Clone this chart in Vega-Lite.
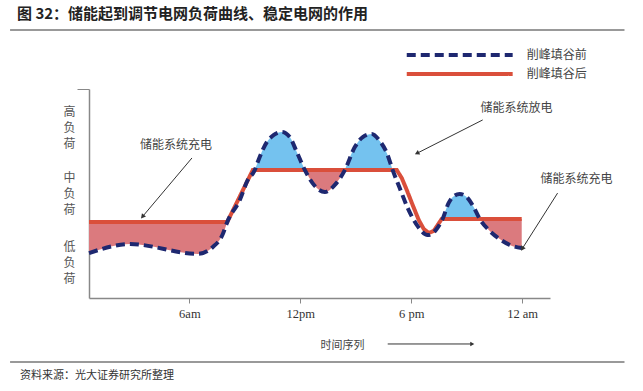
{
  "$schema": "https://vega.github.io/schema/vega-lite/v6.json",
  "width": 461,
  "height": 209,
  "autosize": {"type": "none"},
  "padding": {"left": 89, "top": 89, "right": 93, "bottom": 93},
  "background": "white",
  "config": {"view": {"stroke": null}, "font": "Noto Sans CJK SC"},
  "title": {
    "text": "图 32：储能起到调节电网负荷曲线、稳定电网的作用",
    "anchor": "start",
    "frame": "group",
    "dx": -72,
    "dy": -7,
    "offset": 0,
    "fontSize": 15,
    "fontWeight": "bold",
    "color": "#222",
    "font": "Noto Sans CJK SC"
  },
  "datasets": {
    "curves": [
      {"t": 0.57, "load": 21.5, "series": "削峰填谷前"},
      {"t": 2.79, "load": 25.8, "series": "削峰填谷前"},
      {"t": 6.46, "load": 21.1, "series": "削峰填谷前"},
      {"t": 7.27, "load": 24.4, "series": "削峰填谷前"},
      {"t": 7.81, "load": 30.6, "series": "削峰填谷前"},
      {"t": 8.05, "load": 36.4, "series": "削峰填谷前"},
      {"t": 8.73, "load": 46.9, "series": "削峰填谷前"},
      {"t": 9.16, "load": 56.5, "series": "削峰填谷前"},
      {"t": 9.54, "load": 61.2, "series": "削峰填谷前"},
      {"t": 9.70, "load": 65.1, "series": "削峰填谷前"},
      {"t": 10.19, "load": 74.6, "series": "削峰填谷前"},
      {"t": 10.57, "load": 78.0, "series": "削峰填谷前"},
      {"t": 11.0, "load": 79.4, "series": "削峰填谷前"},
      {"t": 11.43, "load": 77.0, "series": "削峰填谷前"},
      {"t": 11.81, "load": 69.9, "series": "削峰填谷前"},
      {"t": 12.25, "load": 61.2, "series": "削峰填谷前"},
      {"t": 12.79, "load": 53.6, "series": "削峰填谷前"},
      {"t": 13.33, "load": 50.7, "series": "削峰填谷前"},
      {"t": 13.87, "load": 54.1, "series": "削峰填谷前"},
      {"t": 14.41, "load": 61.2, "series": "削峰填谷前"},
      {"t": 14.95, "load": 72.2, "series": "削峰填谷前"},
      {"t": 15.38, "load": 77.0, "series": "削峰填谷前"},
      {"t": 15.87, "load": 78.5, "series": "削峰填谷前"},
      {"t": 16.30, "load": 75.1, "series": "削峰填谷前"},
      {"t": 16.68, "load": 69.4, "series": "削峰填谷前"},
      {"t": 17.0, "load": 61.2, "series": "削峰填谷前"},
      {"t": 17.38, "load": 52.6, "series": "削峰填谷前"},
      {"t": 17.81, "load": 43.1, "series": "削峰填谷前"},
      {"t": 18.35, "load": 34.4, "series": "削峰填谷前"},
      {"t": 18.89, "load": 30.1, "series": "削峰填谷前"},
      {"t": 19.33, "load": 32.5, "series": "削峰填谷前"},
      {"t": 19.70, "load": 37.8, "series": "削峰填谷前"},
      {"t": 20.03, "load": 45.5, "series": "削峰填谷前"},
      {"t": 20.25, "load": 48.3, "series": "削峰填谷前"},
      {"t": 20.62, "load": 49.8, "series": "削峰填谷前"},
      {"t": 21.0, "load": 48.3, "series": "削峰填谷前"},
      {"t": 21.38, "load": 43.5, "series": "削峰填谷前"},
      {"t": 21.71, "load": 37.8, "series": "削峰填谷前"},
      {"t": 22.25, "load": 32.1, "series": "削峰填谷前"},
      {"t": 22.79, "load": 28.2, "series": "削峰填谷前"},
      {"t": 23.33, "load": 25.4, "series": "削峰填谷前"},
      {"t": 23.98, "load": 23.9, "series": "削峰填谷前"},
      {"t": 0.57, "load": 36.4, "series": "削峰填谷后"},
      {"t": 8.05, "load": 36.4, "series": "削峰填谷后"},
      {"t": 9.43, "load": 61.2, "series": "削峰填谷后"},
      {"t": 17.22, "load": 61.2, "series": "削峰填谷后"},
      {"t": 17.49, "load": 57.4, "series": "削峰填谷后"},
      {"t": 17.76, "load": 51.7, "series": "削峰填谷后"},
      {"t": 18.08, "load": 44.5, "series": "削峰填谷后"},
      {"t": 18.41, "load": 37.3, "series": "削峰填谷后"},
      {"t": 18.68, "load": 33.0, "series": "削峰填谷后"},
      {"t": 18.95, "load": 31.1, "series": "削峰填谷后"},
      {"t": 19.22, "load": 32.1, "series": "削峰填谷后"},
      {"t": 19.43, "load": 34.9, "series": "削峰填谷后"},
      {"t": 19.65, "load": 37.8, "series": "削峰填谷后"},
      {"t": 23.98, "load": 37.8, "series": "削峰填谷后"}
    ],
    "fills": [
      {"t": 0.57, "before": 21.5, "after": 36.4, "region": "c1", "kind": "charge"},
      {"t": 2.79, "before": 25.8, "after": 36.4, "region": "c1", "kind": "charge"},
      {"t": 6.46, "before": 21.1, "after": 36.4, "region": "c1", "kind": "charge"},
      {"t": 7.27, "before": 24.4, "after": 36.4, "region": "c1", "kind": "charge"},
      {"t": 7.81, "before": 30.6, "after": 36.4, "region": "c1", "kind": "charge"},
      {"t": 8.05, "before": 36.4, "after": 36.4, "region": "c1", "kind": "charge"},
      {"t": 9.54, "before": 61.2, "after": 61.2, "region": "d1", "kind": "discharge"},
      {"t": 9.70, "before": 65.1, "after": 61.2, "region": "d1", "kind": "discharge"},
      {"t": 10.19, "before": 74.6, "after": 61.2, "region": "d1", "kind": "discharge"},
      {"t": 10.57, "before": 78.0, "after": 61.2, "region": "d1", "kind": "discharge"},
      {"t": 11.0, "before": 79.4, "after": 61.2, "region": "d1", "kind": "discharge"},
      {"t": 11.43, "before": 77.0, "after": 61.2, "region": "d1", "kind": "discharge"},
      {"t": 11.81, "before": 69.9, "after": 61.2, "region": "d1", "kind": "discharge"},
      {"t": 12.25, "before": 61.2, "after": 61.2, "region": "d1", "kind": "discharge"},
      {"t": 12.25, "before": 61.2, "after": 61.2, "region": "c2", "kind": "charge"},
      {"t": 12.79, "before": 53.6, "after": 61.2, "region": "c2", "kind": "charge"},
      {"t": 13.33, "before": 50.7, "after": 61.2, "region": "c2", "kind": "charge"},
      {"t": 13.87, "before": 54.1, "after": 61.2, "region": "c2", "kind": "charge"},
      {"t": 14.41, "before": 61.2, "after": 61.2, "region": "c2", "kind": "charge"},
      {"t": 14.41, "before": 61.2, "after": 61.2, "region": "d2", "kind": "discharge"},
      {"t": 14.95, "before": 72.2, "after": 61.2, "region": "d2", "kind": "discharge"},
      {"t": 15.38, "before": 77.0, "after": 61.2, "region": "d2", "kind": "discharge"},
      {"t": 15.87, "before": 78.5, "after": 61.2, "region": "d2", "kind": "discharge"},
      {"t": 16.30, "before": 75.1, "after": 61.2, "region": "d2", "kind": "discharge"},
      {"t": 16.68, "before": 69.4, "after": 61.2, "region": "d2", "kind": "discharge"},
      {"t": 17.0, "before": 61.2, "after": 61.2, "region": "d2", "kind": "discharge"},
      {"t": 19.70, "before": 37.8, "after": 37.8, "region": "d3", "kind": "discharge"},
      {"t": 20.03, "before": 45.5, "after": 37.8, "region": "d3", "kind": "discharge"},
      {"t": 20.25, "before": 48.3, "after": 37.8, "region": "d3", "kind": "discharge"},
      {"t": 20.62, "before": 49.8, "after": 37.8, "region": "d3", "kind": "discharge"},
      {"t": 21.0, "before": 48.3, "after": 37.8, "region": "d3", "kind": "discharge"},
      {"t": 21.38, "before": 43.5, "after": 37.8, "region": "d3", "kind": "discharge"},
      {"t": 21.71, "before": 37.8, "after": 37.8, "region": "d3", "kind": "discharge"},
      {"t": 21.71, "before": 37.8, "after": 37.8, "region": "c3", "kind": "charge"},
      {"t": 22.25, "before": 32.1, "after": 37.8, "region": "c3", "kind": "charge"},
      {"t": 22.79, "before": 28.2, "after": 37.8, "region": "c3", "kind": "charge"},
      {"t": 23.33, "before": 25.4, "after": 37.8, "region": "c3", "kind": "charge"},
      {"t": 23.98, "before": 23.9, "after": 37.8, "region": "c3", "kind": "charge"}
    ],
    "legendRows": [
      {"t": 17.76, "t2": 23.49, "tl": 24.25, "load": 116.3, "series": "削峰填谷前"},
      {"t": 17.76, "t2": 23.49, "tl": 24.25, "load": 107.2, "series": "削峰填谷后"}
    ],
    "notes": [
      {"t": 5.27, "load": 73.2, "text": "储能系统充电"},
      {"t": 23.7, "load": 90.9, "text": "储能系统放电"},
      {"t": 26.95, "load": 56.9, "text": "储能系统充电"}
    ],
    "arrows": [
      {"id": "a1", "t": 6.14, "load": 67.0, "t2": 3.49, "load2": 39.2},
      {"id": "a2", "t": 21.87, "load": 85.2, "t2": 18.35, "load2": 69.4},
      {"id": "a3", "t": 25.92, "load": 50.2, "t2": 24.03, "load2": 23.9},
      {"id": "time", "t": 16.73, "load": -22.0, "t2": 21.27, "load2": -22.0}
    ],
    "frame": [
      {"t": -3.70, "t2": 29.54, "load": 128.2},
      {"t": -3.70, "t2": 29.54, "load": -30.6}
    ],
    "source": [
      {"t": -3.16, "load": -37.3, "text": "资料来源：光大证券研究所整理"}
    ]
  },
  "layer": [
    {
      "data": {"name": "fills"},
      "mark": {"type": "area", "interpolate": "monotone", "clip": false},
      "encoding": {
        "x": {"field": "t", "type": "quantitative", "scale": {"domain": [0.57, 25.51], "nice": false, "zero": false},
          "axis": {
            "values": [6, 12, 18, 24],
            "labelExpr": "datum.value == 6 ? '6am' : datum.value == 12 ? '12pm' : datum.value == 18 ? '6 pm' : '12 am'",
            "labelFont": "Liberation Serif", "labelFontSize": 12.5, "labelColor": "#333",
            "labelFlush": false, "labelOverlap": false, "labelPadding": 4,
            "tickSize": 5, "tickColor": "#888", "domainColor": "#888", "domainWidth": 1.5, "grid": false,
            "title": "时间序列", "titleFont": "Noto Sans CJK SC", "titleFontSize": 11, "titleFontWeight": "normal",
            "titleColor": "#444", "titleX": 253, "titleY": 47, "titleAlign": "center", "titleBaseline": "middle"
          }},
        "y": {"field": "before", "type": "quantitative", "scale": {"domain": [0, 100], "nice": false, "zero": false},
          "axis": {
            "values": [17.2, 49.8, 81.8, 100],
            "labelExpr": "datum.value == 81.8 ? ['高','负','荷'] : datum.value == 49.8 ? ['中','负','荷'] : datum.value == 17.2 ? ['低','负','荷'] : ''",
            "labelAlign": "center", "labelBaseline": "middle", "labelLineHeight": 16, "labelOffset": -16,
            "labelFont": "Noto Sans CJK SC", "labelFontSize": 12, "labelColor": "#555",
            "labelFlush": false, "labelOverlap": false, "labelPadding": 8,
            "tickSize": 12, "tickColor": "#888",
            "tickOpacity": {"condition": {"test": "datum.value == 100", "value": 1}, "value": 0},
            "domainColor": "#888", "domainWidth": 1.5, "grid": false, "title": null
          }},
        "y2": {"field": "after"},
        "fill": {"field": "kind", "type": "nominal", "scale": {"domain": ["charge", "discharge"], "range": ["#DB7A7E", "#74C2EF"]}, "legend": null},
        "detail": {"field": "region"}
      }
    },
    {
      "data": {"name": "curves"},
      "transform": [{"filter": "datum.series == '削峰填谷后'"}],
      "mark": {"type": "line", "interpolate": "linear", "strokeWidth": 4, "clip": false},
      "encoding": {
        "x": {"field": "t", "type": "quantitative"},
        "y": {"field": "load", "type": "quantitative"},
        "stroke": {"field": "series", "type": "nominal",
          "scale": {"domain": ["削峰填谷前", "削峰填谷后"], "range": ["#1E2870", "#DA4F3B"]}, "legend": null},
        "strokeDash": {"field": "series", "type": "nominal",
          "scale": {"domain": ["削峰填谷前", "削峰填谷后"], "range": [[9, 5], [1, 0]]}, "legend": null}
      }
    },
    {
      "data": {"name": "curves"},
      "transform": [{"filter": "datum.series == '削峰填谷前'"}],
      "mark": {"type": "line", "interpolate": "monotone", "strokeWidth": 4, "strokeCap": "butt", "clip": false},
      "encoding": {
        "x": {"field": "t", "type": "quantitative"},
        "y": {"field": "load", "type": "quantitative"},
        "stroke": {"field": "series", "type": "nominal", "legend": null},
        "strokeDash": {"field": "series", "type": "nominal", "legend": null}
      }
    },
    {
      "data": {"name": "legendRows"},
      "mark": {"type": "rule", "strokeWidth": 4, "strokeCap": "butt", "clip": false},
      "encoding": {
        "x": {"field": "t", "type": "quantitative"},
        "x2": {"field": "t2"},
        "y": {"field": "load", "type": "quantitative"},
        "stroke": {"field": "series", "type": "nominal", "legend": null},
        "strokeDash": {"field": "series", "type": "nominal", "legend": null}
      }
    },
    {
      "data": {"name": "legendRows"},
      "mark": {"type": "text", "font": "Noto Sans CJK SC", "fontSize": 12, "color": "#444", "align": "left", "baseline": "middle", "clip": false},
      "encoding": {
        "x": {"field": "tl", "type": "quantitative"},
        "y": {"field": "load", "type": "quantitative"},
        "text": {"field": "series"}
      }
    },
    {
      "data": {"name": "arrows"},
      "mark": {"type": "rule", "color": "#333", "strokeWidth": 1, "clip": false},
      "encoding": {
        "x": {"field": "t", "type": "quantitative"},
        "y": {"field": "load", "type": "quantitative"},
        "x2": {"field": "t2"},
        "y2": {"field": "load2"}
      }
    },
    {
      "data": {"name": "arrows"},
      "transform": [{"filter": "datum.id == 'a1'"}],
      "mark": {"type": "point", "shape": "triangle", "filled": true, "color": "#333", "size": 28, "angle": 220, "opacity": 1, "clip": false},
      "encoding": {"x": {"field": "t2", "type": "quantitative"}, "y": {"field": "load2", "type": "quantitative"}}
    },
    {
      "data": {"name": "arrows"},
      "transform": [{"filter": "datum.id == 'a2'"}],
      "mark": {"type": "point", "shape": "triangle", "filled": true, "color": "#333", "size": 28, "angle": 243, "opacity": 1, "clip": false},
      "encoding": {"x": {"field": "t2", "type": "quantitative"}, "y": {"field": "load2", "type": "quantitative"}}
    },
    {
      "data": {"name": "arrows"},
      "transform": [{"filter": "datum.id == 'a3'"}],
      "mark": {"type": "point", "shape": "triangle", "filled": true, "color": "#333", "size": 28, "angle": 212, "opacity": 1, "clip": false},
      "encoding": {"x": {"field": "t2", "type": "quantitative"}, "y": {"field": "load2", "type": "quantitative"}}
    },
    {
      "data": {"name": "arrows"},
      "transform": [{"filter": "datum.id == 'time'"}],
      "mark": {"type": "point", "shape": "triangle", "filled": true, "color": "#333", "size": 22, "angle": 90, "opacity": 1, "clip": false},
      "encoding": {"x": {"field": "t2", "type": "quantitative"}, "y": {"field": "load2", "type": "quantitative"}}
    },
    {
      "data": {"name": "notes"},
      "mark": {"type": "text", "font": "Noto Sans CJK SC", "fontSize": 12, "color": "#444", "align": "center", "baseline": "middle", "clip": false},
      "encoding": {
        "x": {"field": "t", "type": "quantitative"},
        "y": {"field": "load", "type": "quantitative"},
        "text": {"field": "text"}
      }
    },
    {
      "data": {"name": "frame"},
      "mark": {"type": "rule", "color": "#999", "strokeWidth": 2, "clip": false},
      "encoding": {
        "x": {"field": "t", "type": "quantitative"},
        "x2": {"field": "t2"},
        "y": {"field": "load", "type": "quantitative"}
      }
    },
    {
      "data": {"name": "source"},
      "mark": {"type": "text", "font": "Noto Sans CJK SC", "fontSize": 11, "color": "#333", "align": "left", "baseline": "middle", "clip": false},
      "encoding": {
        "x": {"field": "t", "type": "quantitative"},
        "y": {"field": "load", "type": "quantitative"},
        "text": {"field": "text"}
      }
    }
  ]
}
